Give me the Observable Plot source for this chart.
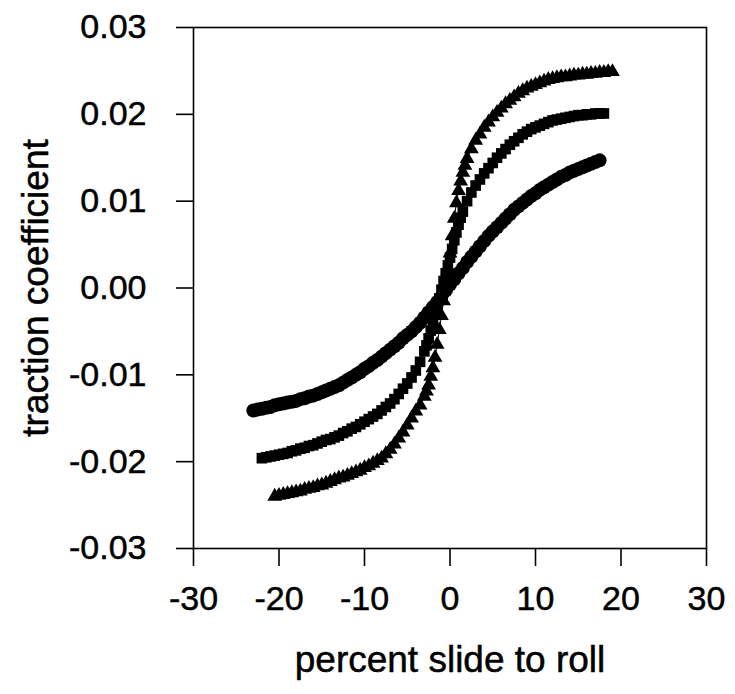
<!DOCTYPE html>
<html>
<head>
<meta charset="utf-8">
<script src="https://cdn.jsdelivr.net/npm/d3@7"></script>
<script src="https://cdn.jsdelivr.net/npm/@observablehq/plot@0.6"></script>
<style>
  html, body { margin: 0; padding: 0; background: #fff; }
  #chart svg g[aria-label*="axis"] line,
  #chart svg g[aria-label*="axis"] path { stroke-width: 1.6px; }
  #chart svg g[aria-label*="axis"] text { stroke: black; stroke-width: 0.5px; }
  #chart svg g[aria-label="x-axis tick label"] text,
  #chart svg g[aria-label="y-axis tick label"] text { font-size: 34px; }
  #chart svg g[aria-label="x-axis label"] text { font-size: 37px; }
  #chart svg g[aria-label="y-axis label"] text { font-size: 37px; }
</style>
</head>
<body>
<div id="chart"></div>
<script>
// circles series
const circX = [-23,-22.5,-22,-21.5,-21,-20.5,-20,-19.5,-19,-18.5,-18,-17.5,-17,-16.5,-16,-15.5,-15,-14.5,-14,-13.5,-13,-12.5,-12,-11.5,-11,-10.5,-10,-9.5,-9,-8.5,-8,-7.5,-7,-6.5,-6,-5.5,-5,-4.5,-4,-3.5,-3,-2.5,-2,-1.5,-1,-0.5,0,0.5,1,1.5,2,2.5,3,3.5,4,4.5,5,5.5,6,6.5,7,7.5,8,8.5,9,9.5,10,10.5,11,11.5,12,12.5,13,13.5,14,14.5,15,15.5,16,16.5,17,17.5];
const circY = [-0.0141,-0.0140,-0.0139,-0.0138,-0.0137,-0.0135,-0.0134,-0.0133,-0.0132,-0.0131,-0.0130,-0.0128,-0.0127,-0.0125,-0.0124,-0.0122,-0.0120,-0.0118,-0.0116,-0.0114,-0.0112,-0.0109,-0.0106,-0.0103,-0.0100,-0.0097,-0.0093,-0.0090,-0.0086,-0.0083,-0.0079,-0.0075,-0.0071,-0.0067,-0.0063,-0.0058,-0.0054,-0.0050,-0.0045,-0.0040,-0.0034,-0.0028,-0.0022,-0.0016,-0.0010,-0.0003,0.0004,0.0010,0.0017,0.0023,0.0030,0.0036,0.0042,0.0048,0.0054,0.0060,0.0065,0.0070,0.0075,0.0080,0.0085,0.0090,0.0094,0.0098,0.0102,0.0106,0.0109,0.0113,0.0116,0.0119,0.0122,0.0125,0.0128,0.0130,0.0133,0.0135,0.0137,0.0139,0.0141,0.0143,0.0145,0.0147];
// squares series
const sqX = [-22,-21.5,-21,-20.5,-20,-19.5,-19,-18.5,-18,-17.5,-17,-16.5,-16,-15.5,-15,-14.5,-14,-13.5,-13,-12.5,-12,-11.5,-11,-10.5,-10,-9.5,-9,-8.5,-8,-7.5,-7,-6.5,-6,-5.5,-5,-4.5,-4,-3.5,-3,-2.75,-2.5,-2.25,-2,-1.75,-1.5,-1.25,-1,-0.75,-0.5,-0.25,0,0.25,0.5,0.75,1,1.25,1.5,2,2.5,3,3.5,4,4.5,5,5.5,6,6.5,7,7.5,8,8.5,9,9.5,10,10.5,11,11.5,12,12.5,13,13.5,14,14.5,15,15.5,16,16.5,17,17.5,18];
const sqY = [-0.0196,-0.0195,-0.0194,-0.0193,-0.0192,-0.0191,-0.0190,-0.0188,-0.0187,-0.0185,-0.0184,-0.0182,-0.0181,-0.0179,-0.0177,-0.0175,-0.0174,-0.0172,-0.0170,-0.0167,-0.0165,-0.0162,-0.0160,-0.0157,-0.0154,-0.0151,-0.0148,-0.0145,-0.0141,-0.0137,-0.0133,-0.0128,-0.0122,-0.0116,-0.0110,-0.0103,-0.0095,-0.0085,-0.0073,-0.0066,-0.0058,-0.0049,-0.0040,-0.0031,-0.0021,-0.0012,-0.0002,0.0008,0.0017,0.0026,0.0035,0.0045,0.0055,0.0064,0.0073,0.0081,0.0088,0.0100,0.0110,0.0118,0.0125,0.0132,0.0138,0.0144,0.0150,0.0155,0.0160,0.0165,0.0169,0.0173,0.0177,0.0180,0.0183,0.0185,0.0187,0.0189,0.0191,0.0193,0.0194,0.0195,0.0196,0.0197,0.0198,0.0199,0.0199,0.0200,0.0200,0.0201,0.0201,0.0201];
// triangles series
const triX = [-20.5,-20,-19.5,-19,-18.5,-18,-17.5,-17,-16.5,-16,-15.5,-15,-14.5,-14,-13.5,-13,-12.5,-12,-11.5,-11,-10.5,-10,-9.5,-9,-8.5,-8,-7.5,-7,-6.5,-6,-5.5,-5,-4.5,-4,-3.5,-3,-2.75,-2.5,-2.25,-2,-1.75,-1.5,-1.25,-1,-0.75,-0.5,-0.25,0,0.25,0.5,0.75,1,1.25,1.5,1.75,2,2.5,3,3.5,4,4.5,5,5.5,6,6.5,7,7.5,8,8.5,9,9.5,10,10.5,11,11.5,12,12.5,13,13.5,14,14.5,15,15.5,16,16.5,17,17.5,18,18.5,19];
const triY = [-0.0240,-0.0239,-0.0238,-0.0237,-0.0236,-0.0235,-0.0234,-0.0232,-0.0231,-0.0230,-0.0228,-0.0227,-0.0225,-0.0223,-0.0221,-0.0219,-0.0218,-0.0216,-0.0214,-0.0212,-0.0210,-0.0207,-0.0205,-0.0202,-0.0199,-0.0196,-0.0191,-0.0186,-0.0180,-0.0173,-0.0166,-0.0158,-0.0150,-0.0142,-0.0135,-0.0125,-0.0119,-0.0112,-0.0102,-0.0092,-0.0080,-0.0065,-0.0048,-0.0032,-0.0015,0.0000,0.0020,0.0040,0.0060,0.0080,0.0098,0.0112,0.0123,0.0133,0.0141,0.0149,0.0160,0.0170,0.0177,0.0185,0.0191,0.0197,0.0202,0.0207,0.0212,0.0216,0.0220,0.0224,0.0227,0.0230,0.0232,0.0234,0.0236,0.0238,0.0240,0.0241,0.0242,0.0243,0.0243,0.0244,0.0245,0.0245,0.0246,0.0246,0.0247,0.0247,0.0248,0.0248,0.0249,0.0249];

const xTicks = [-30,-20,-10,0,10,20,30];
const yTicks = [-0.03,-0.02,-0.01,0,0.01,0.02,0.03];
const xLabel = "percent slide to roll";
const yLabel = "traction coefficient";

const toRows = (xs, ys) => xs.map((x, i) => ({x, y: ys[i]}));
const circ = toRows(circX, circY);
const sq = toRows(sqX, sqY);
const tri = toRows(triX, triY);

const chart = Plot.plot({
  width: 735,
  height: 694,
  marginLeft: 193,
  marginRight: 29,
  marginTop: 27,
  marginBottom: 146,
  style: {fontFamily: "'Liberation Sans', Arial, sans-serif", fontSize: "34px", color: "black", background: "white"},
  x: {domain: [-30, 30], ticks: xTicks, tickFormat: d => String(d), tickSize: 18, tickPadding: 19,
      label: xLabel, labelAnchor: "center", labelOffset: 123, labelArrow: "none"},
  y: {domain: [-0.03, 0.03], ticks: yTicks, tickFormat: d => d.toFixed(2), tickSize: 17, tickPadding: 30,
      label: yLabel, labelAnchor: "center", labelOffset: 172, labelArrow: "none"},
  marks: [
    Plot.frame({stroke: "black", strokeWidth: 1.6}),
    Plot.line(circ, {x: "x", y: "y", stroke: "black", strokeWidth: 1}),
    Plot.line(sq, {x: "x", y: "y", stroke: "black", strokeWidth: 1}),
    Plot.line(tri, {x: "x", y: "y", stroke: "black", strokeWidth: 1}),
    Plot.dot(circ, {x: "x", y: "y", symbol: "circle", r: 7, fill: "black"}),
    Plot.dot(sq, {x: "x", y: "y", symbol: "square", r: 6, fill: "black"}),
    Plot.dot(tri, {x: "x", y: "y", symbol: "triangle", r: 5.5, fill: "black"})
  ]
});
document.getElementById("chart").appendChild(chart);
</script>
</body>
</html>
